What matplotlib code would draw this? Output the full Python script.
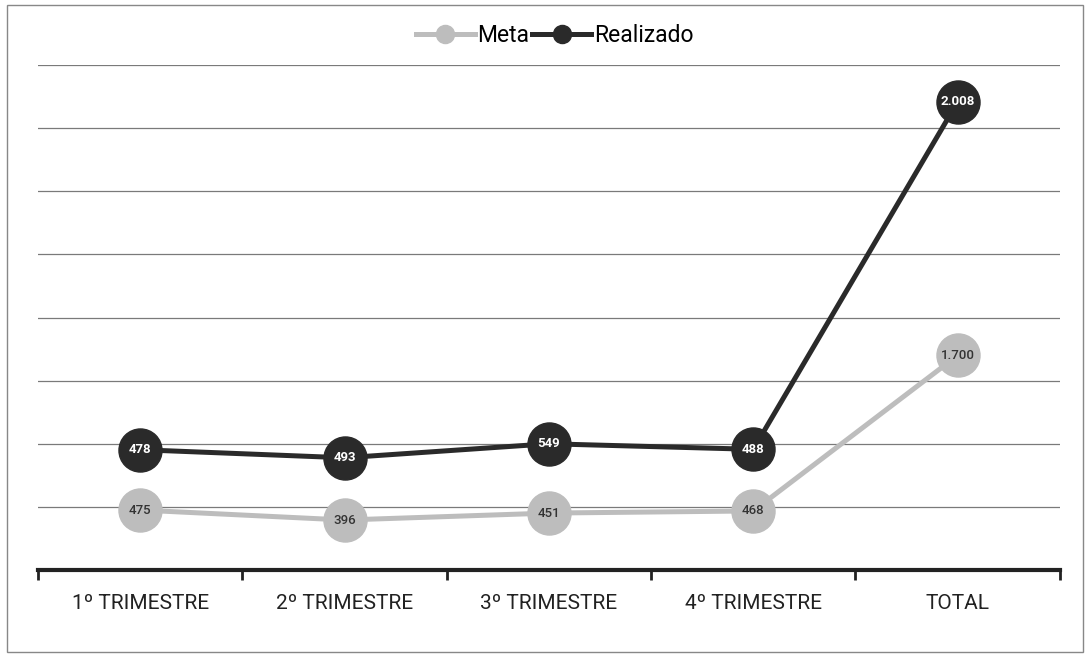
import matplotlib
matplotlib.use("Agg")
import matplotlib.pyplot as plt
import numpy as np

categorias = ["1º TRIMESTRE", "2º TRIMESTRE", "3º TRIMESTRE", "4º TRIMESTRE", "TOTAL"]
meta = [475, 396, 451, 468, 1700]
realizado = [478, 493, 549, 488, 2008]
rotulos_meta = ["475", "396", "451", "468", "1.700"]
rotulos_realizado = ["478", "493", "549", "488", "2.008"]

plt.rcParams['font.family'] = ['Roboto', 'DejaVu Sans']

cinza = "#bdbdbd"
escuro = "#2a2a2a"

fig = plt.figure(figsize=(10.87, 6.57), dpi=100, facecolor="white")
ax = fig.add_axes([0.035, 0.1324, 0.94, 0.7686])

x = np.arange(len(categorias))
# grafico de linhas empilhadas: realizado fica em cima da meta
empilhado = np.array(meta) + np.array(realizado)

ax.plot(x, meta, color=cinza, lw=3.6, marker="o", ms=31, mfc=cinza, mec=cinza,
        label="Meta", zorder=3)
ax.plot(x, empilhado, color=escuro, lw=3.6, marker="o", ms=31, mfc=escuro, mec=escuro,
        label="Realizado", zorder=4)

for i in range(len(x)):
    ax.text(x[i], meta[i], rotulos_meta[i], ha="center", va="center", fontsize=9.5,
            color="#333333", fontweight="medium", zorder=5)
    ax.text(x[i], empilhado[i], rotulos_realizado[i], ha="center", va="center", fontsize=9.5,
            color="white", fontweight="bold", zorder=5)

ax.set_xlim(-0.5, 4.5)
ax.set_ylim(0, 4000)
ax.set_yticks(np.arange(500, 4001, 500))
ax.yaxis.grid(True, color="#7a7a7a", lw=0.9)
ax.set_axisbelow(True)
ax.tick_params(axis="y", left=False, labelleft=False)

ax.set_xticks(x)
ax.set_xticklabels(categorias, fontsize=15, color="#222222")
ax.set_xticks(np.arange(-0.5, 4.6, 1), minor=True)
ax.tick_params(axis="x", which="major", length=0, pad=17)
ax.tick_params(axis="x", which="minor", length=7, width=2, color="#222222", direction="out")

for s in ["top", "right", "left"]:
    ax.spines[s].set_visible(False)
ax.spines["bottom"].set_linewidth(3)
ax.spines["bottom"].set_color("#222222")

fig.legend(loc="upper center", bbox_to_anchor=(0.51, 0.995), ncol=2, frameon=False,
           fontsize=16.5, handlelength=2.6, handletextpad=0.1, columnspacing=0.1,
           markerscale=0.42)

# moldura em volta da figura
moldura = plt.Rectangle((0.006, 0.008), 0.99, 0.985, transform=fig.transFigure,
                        fill=False, edgecolor="#888888", lw=1)
fig.patches.append(moldura)

fig.savefig("out.png", dpi=100)
